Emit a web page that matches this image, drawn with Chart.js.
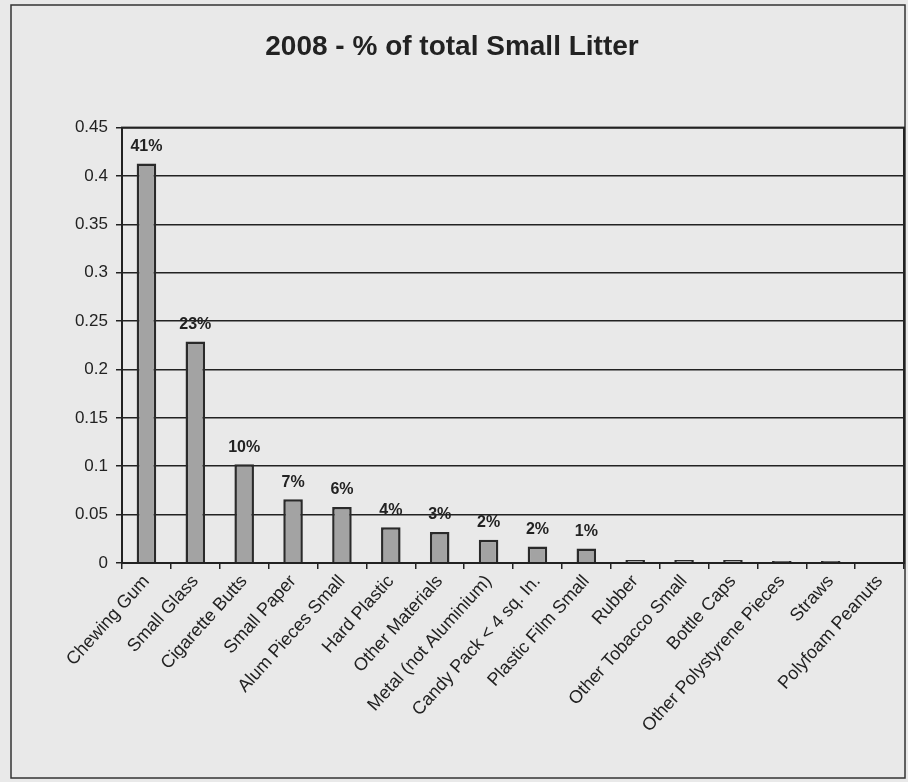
<!DOCTYPE html>
<html>
<head>
<meta charset="utf-8">
<script src="https://cdn.jsdelivr.net/npm/chart.js@4/dist/chart.umd.min.js"></script>
<style>
  html, body { margin: 0; padding: 0; background: #e9e9e9; }
  #wrap { width: 908px; height: 782px; }
</style>
</head>
<body>
<div id="wrap"><canvas id="chart" width="908" height="782"></canvas></div>
<script>
// categories along the x axis
const categories = [
  'Chewing Gum', 'Small Glass', 'Cigarette Butts', 'Small Paper',
  'Alum Pieces Small', 'Hard Plastic', 'Other Materials', 'Metal (not Aluminium)',
  'Candy Pack < 4 sq. In.', 'Plastic Film Small', 'Rubber', 'Other Tobacco Small',
  'Bottle Caps', 'Other Polystyrene Pieces', 'Straws', 'Polyfoam Peanuts'
];

// share of total small litter
const shares = [0.413, 0.229, 0.102, 0.066, 0.058, 0.037, 0.032, 0.024,
  0.017, 0.015, 0.003, 0.003, 0.003, 0.002, 0.002, 0.001];

// percent tags printed above the first bars
const barTags = ['41%', '23%', '10%', '7%', '6%', '4%', '3%', '2%', '2%', '1%'];

// y axis ticks
const yMin = 0;
const yMax = 0.45;
const yStep = 0.05;

const ink = '#222';
const face = 'Arial, "Liberation Sans", sans-serif';

// page background, outer frame and plot border
const framePlugin = {
  id: 'frame',
  beforeDraw(chart) {
    const ctx = chart.ctx;
    ctx.save();
    ctx.fillStyle = '#e9e9e9';
    ctx.fillRect(0, 0, chart.width, chart.height);
    ctx.strokeStyle = '#333';
    ctx.lineWidth = 1.5;
    ctx.strokeRect(11, 5, 894, 773);
    ctx.restore();
  },
  afterDraw(chart) {
    const a = chart.chartArea;
    const ctx = chart.ctx;
    ctx.save();
    ctx.strokeStyle = ink;
    ctx.lineWidth = 2;
    ctx.strokeRect(a.left, a.top, a.right - a.left, a.bottom - a.top);
    ctx.restore();
  }
};

// percent tags drawn from the bar elements
const tagPlugin = {
  id: 'tags',
  afterDatasetsDraw(chart) {
    const ctx = chart.ctx;
    const bars = chart.getDatasetMeta(0).data;
    ctx.save();
    ctx.font = 'bold 16px ' + face;
    ctx.fillStyle = ink;
    ctx.textAlign = 'center';
    ctx.textBaseline = 'bottom';
    barTags.forEach((t, i) => {
      const b = bars[i];
      ctx.fillText(t, b.x, b.y - 9);
    });
    ctx.restore();
  }
};

new Chart(document.getElementById('chart'), {
  type: 'bar',
  data: {
    labels: categories,
    datasets: [{
      data: shares,
      backgroundColor: '#a3a3a3',
      borderColor: '#2a2a2a',
      borderWidth: 2.5,
      borderSkipped: 'bottom',
      barPercentage: 0.4,
      categoryPercentage: 1.0
    }]
  },
  options: {
    responsive: false,
    animation: false,
    layout: { padding: { left: 0, right: 4, top: 0, bottom: 0 } },
    plugins: {
      legend: { display: false },
      tooltip: { enabled: false },
      title: {
        display: true,
        text: '2008 - % of total Small Litter',
        color: ink,
        font: { family: face, size: 28, weight: 'bold' },
        padding: { top: 30, bottom: 64 }
      }
    },
    scales: {
      x: {
        grid: { display: true, drawOnChartArea: false, offset: true, color: ink, tickLength: 6, lineWidth: 1.5 },
        border: { display: true, color: ink, width: 2 },
        ticks: {
          autoSkip: false,
          minRotation: 48,
          maxRotation: 48,
          color: ink,
          padding: 2,
          font: { family: face, size: 18 }
        },
        afterFit(scale) { scale.height = 219; }
      },
      y: {
        min: yMin,
        max: yMax,
        grid: { color: ink, lineWidth: 1.5, tickLength: 6 },
        border: { display: true, color: ink, width: 2 },
        ticks: {
          stepSize: yStep,
          color: ink,
          padding: 8,
          font: { family: face, size: 17 },
          callback: (v) => String(Number(v.toFixed(2)))
        },
        afterFit(scale) { scale.width = 122; }
      }
    }
  },
  plugins: [framePlugin, tagPlugin]
});
</script>
</body>
</html>
